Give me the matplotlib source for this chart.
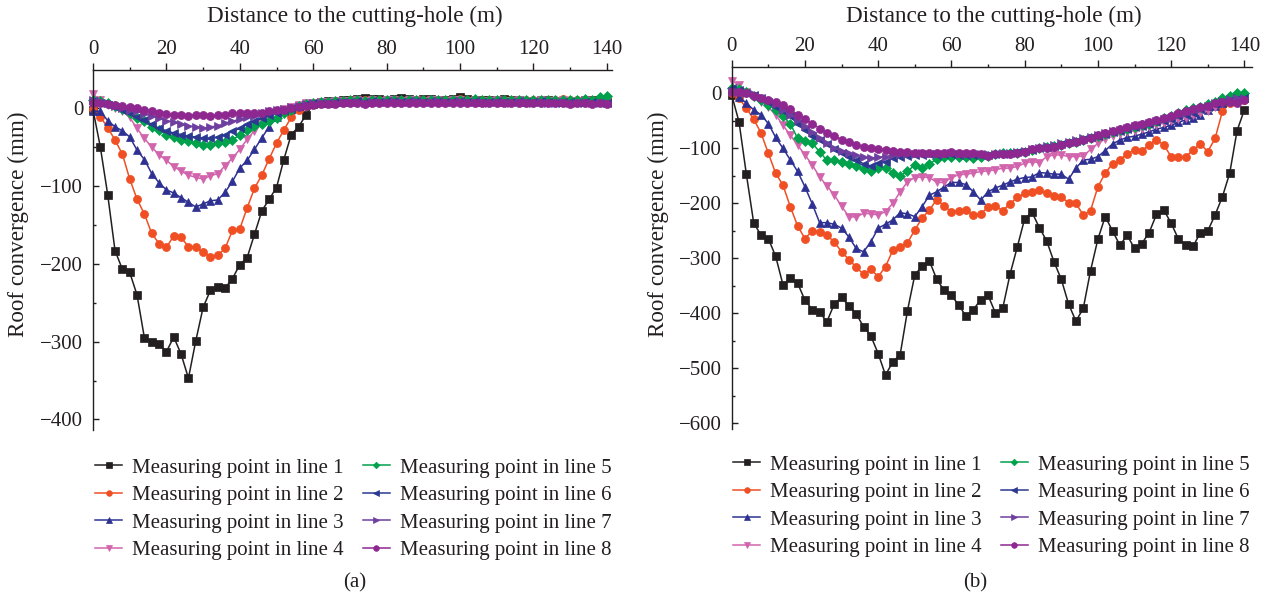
import matplotlib
matplotlib.use('Agg')
import matplotlib.pyplot as plt
from matplotlib.ticker import MultipleLocator

plt.rcParams['font.family'] = ['Liberation Serif', 'DejaVu Serif']

# ---------------- data ----------------
distance = list(range(0, 141, 2))  # m

line_labels = [f"Measuring point in line {i}" for i in range(1, 9)]

# panel (a)
a_line1 = [-2, -50, -111, -183, -207, -211, -240, -295, -300, -303, -313, -294, -316, -347, -299, -256,
           -234, -230, -231, -219, -201, -192, -162, -132, -117, -102, -66, -34, -24, -9, 5,
           8, 9, 9, 10, 11, 12, 13, 12, 12, 11, 12, 13, 12, 11, 12, 12, 11, 10, 12, 14,
           12, 11, 11, 10, 11, 12, 10, 10, 9, 9, 10, 10, 9, 8, 9, 9, 10, 10, 9, 8]
a_line2 = [-1, -11, -25, -41, -59, -91, -117, -136, -161, -174, -179, -164, -166, -178, -179, -185,
           -191, -189, -180, -157, -155, -128, -103, -86, -65, -45, -28, -12, -2, 3, 6,
           7, 8, 9, 9, 10, 10, 11, 10, 10, 11, 10, 11, 10, 11, 10, 10, 11, 10, 11, 12,
           10, 10, 11, 10, 10, 11, 10, 9, 10, 10, 11, 10, 11, 12, 11, 10, 11, 10, 10, 9]
a_line3 = [-4, -4, -16, -24, -29, -37, -54, -66, -84, -96, -105, -109, -115, -121, -127, -123,
           -119, -118, -108, -94, -77, -67, -53, -38, -24, -12, -4, -1, 3, 5, 6,
           7, 7, 8, 8, 9, 9, 8, 9, 9, 10, 9, 9, 10, 9, 9, 10, 9, 9, 10, 10,
           9, 9, 8, 9, 9, 8, 9, 9, 8, 9, 9, 8, 9, 9, 8, 9, 8, 9, 8, 8]
a_line4 = [18, 10, 4, 0, -4, -12, -26, -39, -50, -60, -67, -75, -81, -86, -89, -91,
           -87, -84, -74, -64, -53, -40, -29, -20, -13, -6, -1, 2, 4, 6, 7,
           8, 8, 9, 9, 9, 10, 9, 10, 9, 10, 10, 9, 10, 10, 9, 10, 10, 9, 10, 10,
           9, 10, 9, 9, 10, 9, 9, 10, 9, 9, 10, 9, 9, 10, 9, 9, 10, 9, 9, 9]
a_line5 = [11, 9, 6, 3, -1, -6, -13, -17, -24, -28, -34, -37, -41, -42, -45, -47,
           -47, -45, -43, -41, -34, -28, -23, -20, -17, -13, -6, -2, 3, 5, 7,
           8, 8, 9, 9, 10, 10, 9, 10, 10, 11, 10, 10, 11, 10, 10, 11, 10, 11, 10, 10,
           11, 12, 11, 10, 11, 10, 10, 11, 10, 10, 11, 10, 10, 11, 10, 11, 12, 11, 14, 15]
a_line6 = [9, 7, 4, 2, -2, -6, -11, -15, -21, -26, -29, -32, -34, -36, -37, -39,
           -39, -37, -34, -30, -26, -21, -17, -13, -9, -6, -2, 0, 3, 5, 6,
           7, 7, 8, 8, 8, 9, 8, 9, 8, 9, 9, 8, 9, 9, 8, 9, 9, 8, 9, 9,
           8, 9, 8, 8, 9, 8, 8, 9, 8, 8, 9, 8, 7, 8, 8, 7, 8, 8, 7, 7]
a_line7 = [10, 9, 6, 3, 0, -2, -4, -7, -10, -13, -16, -18, -21, -23, -24, -26,
           -24, -23, -19, -17, -14, -12, -10, -6, -4, -2, -1, 1, 3, 5, 6,
           7, 7, 7, 8, 8, 8, 7, 8, 8, 8, 9, 8, 8, 9, 8, 8, 9, 8, 8, 9,
           8, 8, 8, 7, 8, 8, 7, 8, 8, 7, 8, 7, 7, 8, 7, 7, 8, 7, 7, 7]
a_line8 = [7, 6, 5, 4, 3, 2, 0, -2, -4, -6, -7, -9, -9, -10, -9, -9,
           -10, -9, -9, -6, -6, -6, -6, -6, -4, -2, -2, 0, 2, 3, 4,
           5, 5, 5, 6, 6, 6, 5, 6, 6, 6, 7, 6, 6, 7, 6, 7, 7, 6, 7, 7,
           7, 6, 7, 6, 6, 7, 6, 6, 7, 6, 6, 7, 6, 6, 5, 6, 6, 5, 6, 5]

# panel (b)
b_line1 = [-3, -52, -147, -235, -258, -264, -296, -348, -336, -345,
           -376, -393, -398, -415, -383, -371, -386, -401, -424, -441,
           -473, -512, -488, -475, -395, -330, -314, -305, -338, -358,
           -367, -385, -405, -393, -375, -367, -399, -391, -329, -279,
           -228, -216, -244, -268, -306, -338, -383, -414, -391, -322,
           -265, -224, -250, -276, -258, -282, -273, -253, -220, -212,
           -236, -265, -275, -278, -253, -250, -221, -188, -145, -68, -30]
b_line2 = [0, -9, -27, -47, -72, -109, -145, -167, -206, -241,
           -264, -250, -252, -258, -270, -288, -302, -316, -329, -320,
           -333, -315, -285, -280, -272, -248, -227, -212, -193, -205,
           -215, -213, -212, -221, -219, -207, -205, -213, -201, -189,
           -182, -180, -176, -182, -186, -188, -199, -200, -221, -213,
           -170, -145, -128, -121, -110, -103, -104, -94, -84, -94,
           -115, -115, -115, -103, -92, -106, -82, -33, -18, -9, -12]
b_line3 = [6, -6, -18, -30, -39, -55, -80, -100, -121, -142,
           -170, -201, -235, -235, -238, -245, -261, -282, -288, -270,
           -245, -238, -230, -217, -219, -224, -206, -185, -179, -170,
           -162, -162, -166, -179, -194, -179, -172, -167, -161, -156,
           -153, -152, -144, -145, -147, -147, -156, -136, -121, -120,
           -115, -104, -92, -85, -80, -78, -74, -70, -65, -62,
           -58, -53, -48, -44, -39, -30, -23, -17, -12, -11, -9]
b_line4 = [23, 15, 3, -6, -15, -25, -39, -58, -76, -94,
           -112, -130, -152, -168, -185, -205, -224, -225, -218, -219,
           -221, -215, -200, -179, -161, -153, -152, -153, -162, -162,
           -153, -148, -147, -145, -142, -141, -139, -136, -136, -133,
           -127, -124, -126, -115, -112, -112, -115, -115, -114, -102,
           -91, -83, -78, -74, -71, -68, -65, -61, -58, -54,
           -51, -47, -44, -40, -36, -32, -24, -18, -14, -10, -8]
b_line5 = [9, 7, 3, -5, -12, -21, -30, -42, -55, -82,
           -86, -91, -106, -122, -121, -124, -128, -132, -138, -141,
           -136, -136, -144, -150, -142, -130, -136, -128, -120, -116,
           -116, -115, -116, -118, -115, -114, -110, -109, -109, -108,
           -106, -103, -100, -98, -96, -94, -91, -88, -85, -82,
           -78, -74, -70, -67, -64, -61, -58, -55, -50, -45,
           -41, -36, -30, -27, -24, -19, -15, -9, -5, 0, 0]
b_line6 = [9, 6, 1, -3, -9, -15, -24, -33, -42, -55,
           -67, -78, -85, -92, -102, -109, -115, -121, -128, -132,
           -126, -124, -118, -115, -114, -113, -112, -110, -112, -111,
           -110, -112, -112, -113, -112, -113, -111, -110, -109, -107,
           -105, -103, -100, -97, -96, -92, -89, -87, -83, -80,
           -78, -74, -71, -69, -65, -62, -60, -56, -53, -50,
           -47, -42, -39, -35, -29, -24, -19, -15, -12, -10, -8]
b_line7 = [5, 3, 1, -1, -6, -12, -19, -30, -39, -48,
           -59, -70, -82, -91, -100, -104, -109, -112, -116, -118,
           -116, -115, -112, -111, -110, -110, -109, -110, -111, -110,
           -109, -110, -111, -111, -110, -111, -110, -109, -108, -106,
           -104, -101, -99, -96, -94, -91, -88, -85, -82, -79,
           -75, -72, -69, -66, -63, -60, -57, -54, -51, -47,
           -44, -40, -36, -32, -28, -23, -18, -14, -11, -9, -8]
b_line8 = [3, 3, 0, -5, -9, -12, -15, -21, -29, -39,
           -47, -55, -64, -72, -78, -84, -88, -94, -97, -100,
           -102, -103, -104, -106, -106, -108, -108, -108, -108, -108,
           -106, -108, -108, -108, -111, -114, -111, -111, -111, -109,
           -106, -102, -100, -100, -97, -94, -90, -88, -84, -82,
           -76, -73, -68, -65, -61, -58, -56, -52, -48, -45,
           -42, -36, -33, -29, -24, -23, -18, -15, -15, -17, -13]

panel_a = [a_line1, a_line2, a_line3, a_line4, a_line5, a_line6, a_line7, a_line8]
panel_b = [b_line1, b_line2, b_line3, b_line4, b_line5, b_line6, b_line7, b_line8]

# ---------------- style ----------------
ink = '#231f20'
colors = ['#231f20', '#f04e23', '#2e3192', '#d164ac', '#00a14b', '#2b3990', '#6e3f9f', '#8e278f']
markers = ['s', 'o', '^', 'v', 'D', '<', '>', 'o']
msizes = [5.2, 5.8, 6.3, 6.3, 4.8, 6.3, 6.3, 5.8]

W, H = 1269, 603
fig = plt.figure(figsize=(W / 100, H / 100), dpi=100)
ax_a = fig.add_axes([93 / W, 1 - 430 / H, 519 / W, 360 / H])
ax_b = fig.add_axes([731.7 / W, 1 - 429 / H, 520 / W, 362 / H])


def draw(ax, series):
    for y, c, m, ms, lab in zip(series, colors, markers, msizes, line_labels):
        ax.plot(distance, y, color=c, marker=m, markersize=ms, markeredgewidth=0.5,
                markeredgecolor=c, linewidth=1.1, label=lab, clip_on=False)


def style(ax, xlim, ylim, ax_top_px, ax_h_px, ax_left_px, ax_w_px, ylab_px):
    ax.set_xlim(*xlim)
    ax.set_ylim(*ylim)
    ax.spines['right'].set_visible(False)
    ax.spines['bottom'].set_visible(False)
    for s in ('left', 'top'):
        ax.spines[s].set_linewidth(1.0)
        ax.spines[s].set_color(ink)
    ax.xaxis.tick_top()
    ax.xaxis.set_major_locator(MultipleLocator(20))
    ax.xaxis.set_minor_locator(MultipleLocator(10))
    ax.yaxis.set_major_locator(MultipleLocator(100))
    ax.yaxis.set_minor_locator(MultipleLocator(50))
    ax.tick_params(axis='x', which='both', direction='out', top=True, bottom=False,
                   colors=ink, labelsize=15, pad=3)
    ax.tick_params(axis='x', which='major', length=5, width=1)
    ax.tick_params(axis='x', which='minor', length=2.5, width=1)
    ax.tick_params(axis='y', which='both', direction='in', left=True, right=False,
                   colors=ink, labelsize=15, pad=7)
    ax.tick_params(axis='y', which='major', length=4.5, width=1)
    ax.tick_params(axis='y', which='minor', length=2.5, width=1)
    ax.xaxis.set_label_position('top')
    ax.set_xlabel('Distance to the cutting-hole (m)', fontsize=16.7, color=ink, va='center')
    ax.xaxis.set_label_coords(0.505, 1 + (ax_top_px - 16) / ax_h_px)
    ax.set_ylabel('Roof convergence (mm)', fontsize=16.7, color=ink, va='center')
    ax.yaxis.set_label_coords((ylab_px - ax_left_px) / ax_w_px, 1 - (224 - ax_top_px) / ax_h_px)


draw(ax_a, panel_a)
draw(ax_b, panel_b)
style(ax_a, (0, 141.4), (-413.5, 49), 70, 360, 93, 519, 18)
style(ax_b, (0, 142), (-610, 47.8), 67, 362, 731.7, 520, 658)

for ax, (lx, ly) in ((ax_a, (95, 458)), (ax_b, (733, 455))):
    ax.legend(loc='upper left', bbox_to_anchor=(lx / W, 1 - ly / H), bbox_transform=fig.transFigure,
              ncol=2, frameon=False, fontsize=15, handlelength=1.3, handletextpad=0.5,
              columnspacing=0.9, labelspacing=0.38, borderpad=0, borderaxespad=0,
              markerscale=0.7, labelcolor=ink)

fig.text(355 / W, 1 - 583 / H, '(a)', ha='center', va='center', fontsize=15, color=ink)
fig.text(975 / W, 1 - 583 / H, '(b)', ha='center', va='center', fontsize=15, color=ink)

fig.savefig('out.png', dpi=100)
